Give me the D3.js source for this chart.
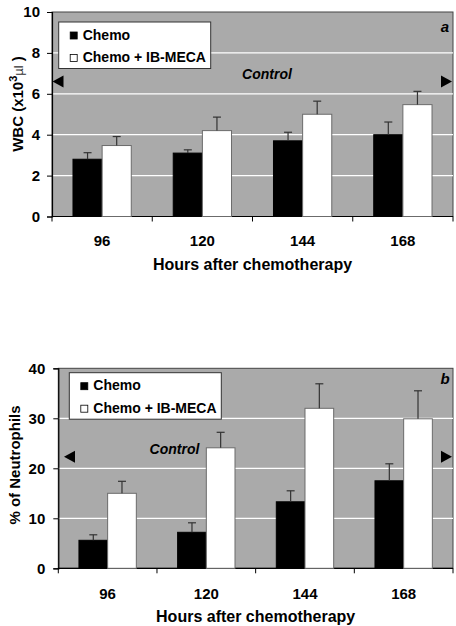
<!DOCTYPE html>
<html><head><meta charset="utf-8">
<script src="https://cdn.jsdelivr.net/npm/d3@7"></script>
<style>body{margin:0;background:#fff}svg{display:block;font-family:"Liberation Sans",Arial,sans-serif;font-weight:bold}</style>
</head><body><svg id="c" width="456" height="626"></svg>
<script>
const categories = ["96","120","144","168"];
const seriesNames = ["Chemo","Chemo + IB-MECA"];
// Panel a: WBC
const wbcChemo = [2.8, 3.1, 3.7, 4.0];
const wbcChemoErr = [0.32, 0.16, 0.42, 0.62];
const wbcIB = [3.47, 4.2, 5.0, 5.47];
const wbcIBErr = [0.44, 0.66, 0.64, 0.65];
const wbcTicks = [0,2,4,6,8,10];
const wbcControl = 6.6;
// Panel b: % neutrophils
const neuChemo = [5.6, 7.2, 13.3, 17.5];
const neuChemoErr = [1.1, 1.9, 2.2, 3.4];
const neuIB = [15.0, 24.1, 32.0, 29.9];
const neuIBErr = [2.4, 3.1, 4.9, 5.6];
const neuTicks = [0,10,20,30,40];
const neuControl = 22.3;

const svg = d3.select("#c");
const FONT = "'Liberation Sans',Arial,sans-serif";

function panel(o){
  const g = svg.append("g");
  const x = d3.scaleBand().domain(categories).range([o.left, o.right]).padding(0);
  const x1 = d3.scaleBand().domain(seriesNames).range([0, x.bandwidth()]).paddingInner(0).paddingOuter(0.72);
  const y = d3.scaleLinear().domain([0, o.max]).range([o.bottom, o.top]);
  // background
  g.append("rect").attr("x", o.left).attr("y", o.top).attr("width", o.right-o.left).attr("height", o.bottom-o.top)
    .attr("fill", "#aaaaaa").attr("stroke", "#444").attr("stroke-width", 1);
  // grid
  g.selectAll(".grid").data(o.ticks.filter(t => t>0 && t<o.max)).join("line")
    .attr("x1", o.left).attr("x2", o.right).attr("y1", d => y(d)).attr("y2", d => y(d))
    .attr("stroke", "#fff").attr("stroke-width", 1.2);
  // y axis
  const ya = g.append("g").attr("transform", `translate(${o.left},0)`)
    .call(d3.axisLeft(y).tickValues(o.ticks).tickSize(5).tickFormat(""));
  ya.select(".domain").attr("stroke","#000").attr("stroke-width",1.2);
  g.selectAll(null).data(o.ticks).join("text")
    .attr("x", o.left - o.ytPad).attr("y", d => y(d)).attr("dy","0.36em").attr("text-anchor","end")
    .attr("font-size", 15).attr("font-family", FONT).attr("font-weight","bold").text(d => d);
  // x axis
  const xa = g.append("g").attr("transform", `translate(0,${o.bottom})`);
  xa.append("line").attr("x1", o.left).attr("x2", o.right).attr("y1",0).attr("y2",0).attr("stroke","#000").attr("stroke-width",1.2);
  const bounds = categories.map(c => x(c)).concat([o.right]);
  xa.selectAll(".tk").data(bounds).join("line").attr("x1", d=>d).attr("x2", d=>d).attr("y1",0).attr("y2",5).attr("stroke","#000");
  g.selectAll(null).data(categories).join("text").attr("x", d => x(d)+x.bandwidth()/2).attr("y", o.tickBase)
    .attr("text-anchor","middle").attr("font-size",15).text(d=>d);
  g.append("text").attr("x", (o.left+o.right)/2).attr("y", o.titleBase).attr("text-anchor","middle").attr("font-size",16)
    .text("Hours after chemotherapy");
  // bars
  const series = [{name:seriesNames[0], v:o.s1, e:o.e1, fill:"#000", stroke:"#000"},
                  {name:seriesNames[1], v:o.s2, e:o.e2, fill:"#fff", stroke:"#6b6b6b"}];
  series.forEach(s => {
    const data = categories.map((c,i) => ({c, v:s.v[i], e:s.e[i]}));
    g.selectAll(null).data(data).join("rect")
      .attr("x", d => x(d.c)+x1(s.name)).attr("width", x1.bandwidth())
      .attr("y", d => y(d.v)).attr("height", d => y(0)-y(d.v))
      .attr("fill", s.fill).attr("stroke", s.stroke).attr("stroke-width",1);
    const eg = g.selectAll(null).data(data).join("g").attr("stroke","#333").attr("stroke-width",1.2);
    eg.append("line").attr("x1", d => x(d.c)+x1(s.name)+x1.bandwidth()/2).attr("x2", d => x(d.c)+x1(s.name)+x1.bandwidth()/2)
      .attr("y1", d => y(d.v)).attr("y2", d => y(d.v+d.e));
    eg.append("line").attr("x1", d => x(d.c)+x1(s.name)+x1.bandwidth()/2-4).attr("x2", d => x(d.c)+x1(s.name)+x1.bandwidth()/2+4)
      .attr("y1", d => y(d.v+d.e)).attr("y2", d => y(d.v+d.e));
  });
  // control arrows
  const cy = y(o.control);
  g.append("path").attr("d", `M${o.arrowL},${cy} l11,-6 l0,12 z`).attr("fill","#000");
  g.append("path").attr("d", `M${o.right-1},${cy} l-11,-6 l0,12 z`).attr("fill","#000");
  g.append("text").attr("x", o.controlX).attr("y", o.controlBase).attr("text-anchor","middle")
    .attr("font-size",14).attr("font-style","italic").text("Control");
  // panel letter
  g.append("text").attr("x", o.right-8).attr("y", o.letterBase).attr("text-anchor","middle")
    .attr("font-size",15).attr("font-style","italic").text(o.letter);
  // legend
  const lg = g.append("g");
  lg.append("rect").attr("x", o.lx).attr("y", o.ly).attr("width", 152).attr("height", 46.5).attr("fill","#fff").attr("stroke","#333");
  seriesNames.forEach((n,i) => {
    lg.append("rect").attr("x", o.lx+11.5).attr("y", o.ly+10+i*22.5).attr("width",7).attr("height",7)
      .attr("fill", i===0?"#000":"#fff").attr("stroke","#000").attr("stroke-width",0.8);
    lg.append("text").attr("x", o.lx+24).attr("y", o.ly+15.5+i*22.5+2).attr("font-size",14).text(n);
  });
  // y title
  const yt = g.append("text").attr("transform", `translate(${o.ytX},${o.ytY}) rotate(-90)`).attr("text-anchor","middle").attr("font-size",15);
  o.ytitle(yt);
}

panel({left:52, right:453, top:12, bottom:216.5, max:10, ticks:wbcTicks, s1:wbcChemo, e1:wbcChemoErr, s2:wbcIB, e2:wbcIBErr,
  control:wbcControl, arrowL:52.5, controlX:267, controlBase:79, letter:"a", letterBase:32, lx:58.7, ly:22,
  tickBase:246, titleBase:270, ytX:23, ytY:104, ytPad:12,
  ytitle: t => { t.append("tspan").text("WBC (x10");
                 t.append("tspan").attr("font-size",11).attr("dy",-6).text("3");
                 t.append("tspan").attr("dy",6).attr("font-weight","normal").attr("font-size",13).attr("fill","#333").text("\u00b5l");
                 t.append("tspan").text(" )"); }});
panel({left:58.3, right:453, top:368.3, bottom:568.3, max:40, ticks:neuTicks, s1:neuChemo, e1:neuChemoErr, s2:neuIB, e2:neuIBErr,
  control:neuControl, arrowL:64, controlX:174.5, controlBase:453.5, letter:"b", letterBase:383.5, lx:69.3, ly:372.7,
  tickBase:599, titleBase:621.5, ytX:20, ytY:465, ytPad:13,
  ytitle: t => t.text("% of Neutrophils")});
</script></body></html>
